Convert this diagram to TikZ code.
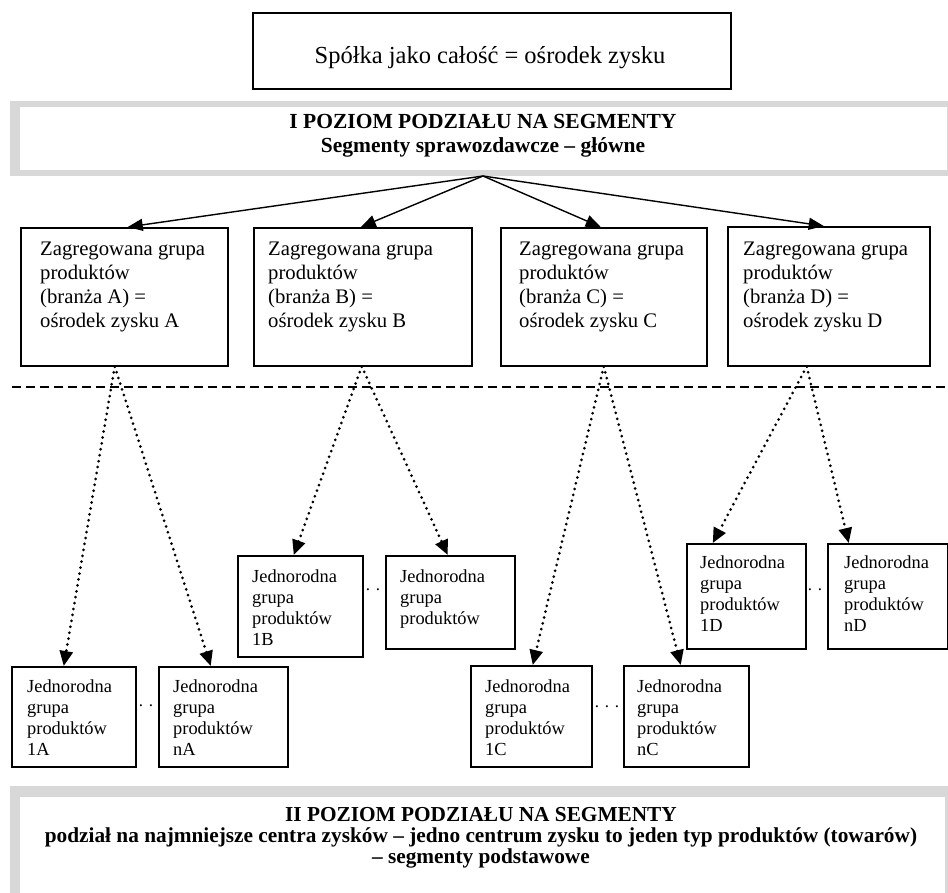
\documentclass[tikz,border=0pt]{standalone}
\usepackage{fontspec}
\setmainfont{Liberation Serif}
\usetikzlibrary{arrows.meta}
\definecolor{framegray}{RGB}{216,216,216}
\begin{document}
\begin{tikzpicture}[x=1pt,y=-1pt,
  box/.style={draw, line width=1.5pt, inner sep=0pt, anchor=north west},
  toptxt/.style={font=\fontsize{24.5}{28}\selectfont, anchor=base, inner sep=0pt},
  hdr/.style={font=\bfseries\fontsize{21.5}{24}\selectfont, align=center, anchor=north, inner sep=0pt},
  hdrb/.style={font=\bfseries\fontsize{21.3}{21}\selectfont, align=center, anchor=north, inner sep=0pt},
  lvone/.style={font=\fontsize{20.7}{24}\selectfont, align=left, anchor=north west, inner sep=0pt},
  lvtwo/.style={font=\fontsize{18.4}{21}\selectfont, align=left, anchor=north west, inner sep=0pt},
  dotsep/.style={font=\fontsize{17}{20}\selectfont, inner sep=0pt},
  solidarrow/.style={line width=1.4pt, -{Triangle[length=15pt,width=12pt]}},
  dotarrow/.style={line width=3pt, line cap=round, dash pattern=on 0pt off 6pt, -{Triangle[length=15pt,width=13pt]}},
  sepline/.style={line width=1.4pt, dash pattern=on 9pt off 5pt}
]
\useasboundingbox (0,0) rectangle (948,892);
\clip (0,0) rectangle (948,892);

% top box
\node[box, minimum width=478pt, minimum height=76pt] (top) at (252,12) {};
\node[toptxt] (toptext) at (490,63) {Spółka jako całość = ośrodek zysku};

% level I frame
\fill[framegray] (10,101) rectangle (948,176);
\fill[white] (20,107) rectangle (947,170);
\node[hdr] (hdrone) at (483,110) {\rule{0pt}{18pt}I POZIOM PODZIAŁU NA SEGMENTY\\Segmenty sprawozdawcze – główne};
\coordinate (apex) at (483,176);

% level 1 boxes
\node[box, minimum width=207pt, minimum height=138pt] (A) at (20,227) {};
\node[box, minimum width=218pt, minimum height=138pt] (B) at (253,227) {};
\node[box, minimum width=206pt, minimum height=138pt] (C) at (500,227) {};
\node[box, minimum width=202pt, minimum height=139pt] (D) at (727,226) {};
\node[lvone] (At) at (40,237) {\rule{0pt}{18pt}Zagregowana grupa\\produktów\\(branża A) =\\ośrodek zysku A};
\node[lvone] (Bt) at (268,237) {\rule{0pt}{18pt}Zagregowana grupa\\produktów\\(branża B) =\\ośrodek zysku B};
\node[lvone] (Ct) at (519,237) {\rule{0pt}{18pt}Zagregowana grupa\\produktów\\(branża C) =\\ośrodek zysku C};
\node[lvone] (Dt) at (743,237) {\rule{0pt}{18pt}Zagregowana grupa\\produktów\\(branża D) =\\ośrodek zysku D};

\draw[solidarrow] (apex) -- ([xshift=3.5pt]A.north);
\draw[solidarrow] (apex) -- ([xshift=-2pt]B.north);
\draw[solidarrow] (apex) -- ([xshift=-3pt]C.north);
\draw[solidarrow] (apex) -- ([xshift=-5pt]D.north);

% dashed separator
\coordinate (dl) at (12,387);
\coordinate (dr) at (945,387);
\draw[sepline] (dl) -- (dr);

% level 2 boxes
\node[box, minimum width=124pt, minimum height=100pt] (A1) at (11,666) {};
\node[box, minimum width=129pt, minimum height=100pt] (An) at (158,666) {};
\node[box, minimum width=125pt, minimum height=101pt] (B1) at (237,555) {};
\node[box, minimum width=129pt, minimum height=93pt] (Bn) at (385,555) {};
\node[box, minimum width=121pt, minimum height=101pt] (C1) at (470,665) {};
\node[box, minimum width=125pt, minimum height=101pt] (Cn) at (623,665) {};
\node[box, minimum width=119pt, minimum height=105pt] (D1) at (686,543) {};
\node[box, minimum width=120pt, minimum height=105pt] (Dn) at (827,543) {};

\node[lvtwo] (A1t) at (27,676) {\rule{0pt}{16pt}Jednorodna\\grupa\\produktów\\1A};
\node[lvtwo] (Ant) at (173,676) {\rule{0pt}{16pt}Jednorodna\\grupa\\produktów\\nA};
\node[lvtwo] (B1t) at (252,566) {\rule{0pt}{16pt}Jednorodna\\grupa\\produktów\\1B};
\node[lvtwo] (Bnt) at (400,566) {\rule{0pt}{16pt}Jednorodna\\grupa\\produktów};
\node[lvtwo] (C1t) at (485,676) {\rule{0pt}{16pt}Jednorodna\\grupa\\produktów\\1C};
\node[lvtwo] (Cnt) at (637,676) {\rule{0pt}{16pt}Jednorodna\\grupa\\produktów\\nC};
\node[lvtwo] (D1t) at (700,552) {\rule{0pt}{16pt}Jednorodna\\grupa\\produktów\\1D};
\node[lvtwo] (Dnt) at (844,552) {\rule{0pt}{16pt}Jednorodna\\grupa\\produktów\\nD};

% ellipsis dots
\node[dotsep] (dotsA) at (146,706) {. .};
\node[dotsep] (dotsB) at (373,590) {. .};
\node[dotsep] (dotsC) at (607,707) {. . .};
\node[dotsep] (dotsD) at (815,590) {. .};

% dotted arrows
\draw[dotarrow] ([xshift=-9.5pt]A.south) -- ([xshift=-10pt]A1.north);
\draw[dotarrow] ([xshift=-9.5pt]A.south) -- ([xshift=-12.5pt]An.north);
\draw[dotarrow] ([xshift=-1pt]B.south) -- ([xshift=-6.5pt]B1.north);
\draw[dotarrow] ([xshift=-1pt]B.south) -- ([xshift=-2.5pt]Bn.north);
\draw[dotarrow] (C.south) -- ([xshift=1.5pt]C1.north);
\draw[dotarrow] (C.south) -- ([xshift=-5.5pt]Cn.north);
\draw[dotarrow] ([xshift=-22pt]D.south) -- ([xshift=-33.5pt]D1.north);
\draw[dotarrow] ([xshift=-22pt]D.south) -- ([xshift=-39pt]Dn.north);

% level II frame
\fill[framegray] (10,786) rectangle (948,900);
\fill[white] (20,797) rectangle (945,900);
\node[hdrb] (hdrtwo) at (481,804) {\rule{0pt}{17pt}II POZIOM PODZIAŁU NA SEGMENTY\\podział na najmniejsze centra zysków – jedno centrum zysku to jeden typ produktów (towarów)\\– segmenty podstawowe};
\end{tikzpicture}
\end{document}
